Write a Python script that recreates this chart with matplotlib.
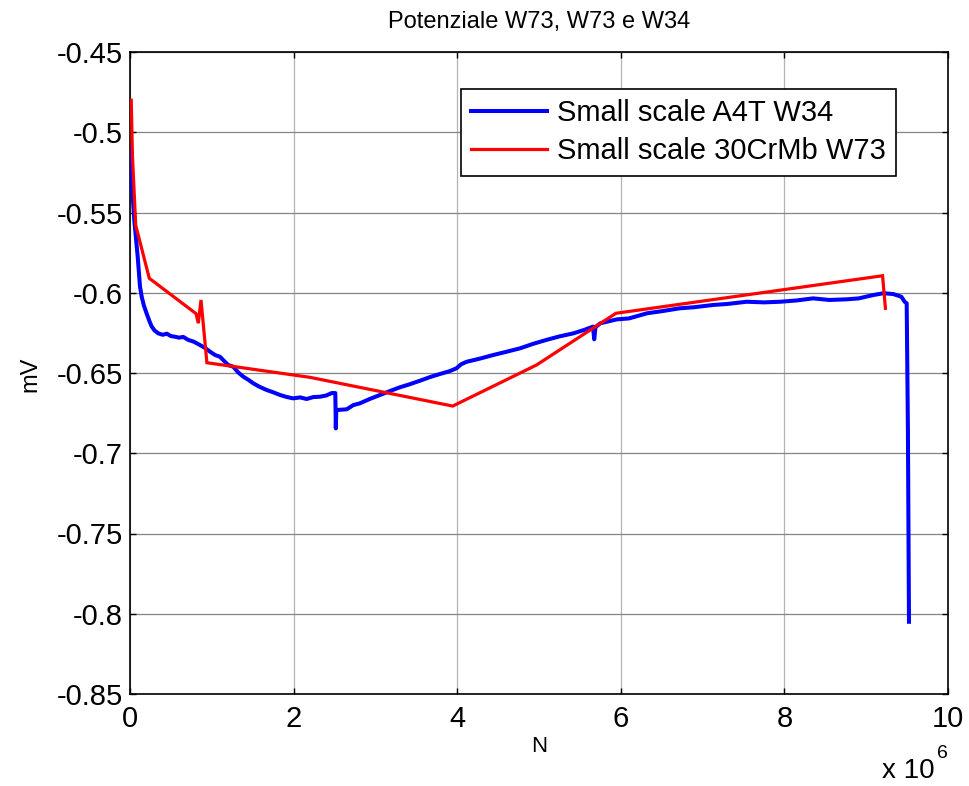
import matplotlib
matplotlib.use("Agg")
import matplotlib.pyplot as plt
import numpy as np

plt.rcParams['font.family'] = ['Liberation Sans', 'DejaVu Sans']

# Data (N in units of 1e6, potential in mV)
blue_n = [0.0, 0.01, 0.02, 0.053, 0.094, 0.122, 0.143, 0.17, 0.204, 0.24, 0.265, 0.30,
          0.346, 0.40, 0.45, 0.50, 0.55, 0.60, 0.65, 0.713, 0.78, 0.856, 0.92, 0.978,
          1.04, 1.10, 1.16, 1.20, 1.263, 1.32, 1.385, 1.44, 1.507, 1.58, 1.671, 1.75,
          1.834, 1.92, 1.996, 2.08, 2.16, 2.24, 2.32, 2.40, 2.466, 2.51, 2.516, 2.522,
          2.546, 2.60, 2.65, 2.73, 2.81, 2.93, 3.056, 3.18, 3.30, 3.42, 3.545, 3.67,
          3.79, 3.90, 3.99, 4.05, 4.116, 4.28, 4.44, 4.60, 4.77, 4.93, 5.09, 5.25,
          5.42, 5.55, 5.66, 5.675, 5.69, 5.75, 5.85, 5.95, 6.10, 6.32, 6.50, 6.72,
          6.90, 7.13, 7.30, 7.54, 7.75, 7.95, 8.15, 8.35, 8.55, 8.76, 8.91, 9.09,
          9.21, 9.33, 9.43, 9.47, 9.495, 9.51, 9.523]
blue_v = [-0.510, -0.520, -0.530, -0.555, -0.5775, -0.596, -0.6025, -0.608, -0.613, -0.618,
          -0.621, -0.6235, -0.6253, -0.6262, -0.6255, -0.6270, -0.6274, -0.6280, -0.6275,
          -0.6294, -0.6305, -0.6326, -0.6345, -0.6367, -0.6388, -0.6399, -0.6430, -0.6450,
          -0.6461, -0.6495, -0.6523, -0.6540, -0.6564, -0.6585, -0.6606, -0.6620, -0.6637,
          -0.6650, -0.6658, -0.6652, -0.6662, -0.6650, -0.6648, -0.6640, -0.6625, -0.6625,
          -0.6845, -0.6730, -0.6730, -0.6728, -0.6726, -0.6700, -0.6689, -0.6662, -0.6637,
          -0.6612, -0.6589, -0.6570, -0.6548, -0.6525, -0.6506, -0.6490, -0.6471, -0.6445,
          -0.6430, -0.6410, -0.6388, -0.6368, -0.6346, -0.6318, -0.6294, -0.6272, -0.6253,
          -0.6232, -0.6211, -0.6290, -0.6215, -0.6190, -0.6178, -0.6166, -0.6160, -0.6128,
          -0.6115, -0.6097, -0.6090, -0.6076, -0.6070, -0.6056, -0.6060, -0.6056, -0.6048,
          -0.6035, -0.6045, -0.6041, -0.6035, -0.6014, -0.6003, -0.6008, -0.6025, -0.6056,
          -0.6066, -0.6860, -0.8050]

red_n = [0.015, 0.03, 0.07, 0.236, 0.807, 0.835, 0.868, 0.94, 2.2, 3.945, 4.97, 5.94, 9.2, 9.235]
red_v = [-0.480, -0.515, -0.558, -0.591, -0.613, -0.619, -0.6045, -0.6436, -0.6527, -0.6706,
         -0.645, -0.6128, -0.5894, -0.6097]

labels = ['Small scale A4T W34', 'Small scale 30CrMb W73']
title = 'Potenziale W73, W73 e W34'
xticks = [0, 2, 4, 6, 8, 10]
yticks = [-0.85, -0.8, -0.75, -0.7, -0.65, -0.6, -0.55, -0.5, -0.45]
ytick_labels = ['-0.85', '-0.8', '-0.75', '-0.7', '-0.65', '-0.6', '-0.55', '-0.5', '-0.45']

W, H = 969, 786
fig = plt.figure(figsize=(W / 100, H / 100), dpi=100)
ax = fig.add_axes([130 / W, 1 - 694 / H, (948 - 130) / W, (694 - 52) / H])

ax.plot(np.array(blue_n) * 1e6, blue_v, color=(0, 0, 1), lw=2.9, label=labels[0],
        solid_joinstyle='round', zorder=3)
ax.plot(np.array(red_n) * 1e6, red_v, color=(1, 0, 0), lw=2.3, label=labels[1],
        solid_joinstyle='miter', zorder=4)

ax.set_xlim(0, 10e6)
ax.set_ylim(-0.85, -0.45)
ax.set_xticks([v * 1e6 for v in xticks])
ax.set_xticklabels([str(v) for v in xticks])
ax.set_yticks(yticks)
ax.set_yticklabels(ytick_labels)

ax.tick_params(direction='in', length=4, width=1.0, top=True, right=True,
               labelsize=21, colors='black')
ax.tick_params(axis='x', pad=8)
ax.tick_params(axis='y', pad=5)
for s in ax.spines.values():
    s.set_linewidth(1.2)
    s.set_color('black')

ax.xaxis.grid(True, color='#b4b4b4', lw=0.9, ls='-')
ax.yaxis.grid(True, color='#858585', lw=0.9, ls='-')
ax.set_axisbelow(True)

fig.text(539 / W, 1 - 22 / H, title, ha='center', va='center', fontsize=17)
fig.text(539 / W, 1 - 746 / H, 'N', ha='center', va='center', fontsize=16)
fig.text(30 / W, 1 - 374 / H, 'mV', ha='center', va='center', fontsize=17, rotation=90)
fig.text(908 / W, 1 - 771 / H, 'x 10', ha='center', va='center', fontsize=20)
fig.text(942 / W, 1 - 753 / H, '6', ha='center', va='center', fontsize=14)

leg = ax.legend(loc='upper right', bbox_to_anchor=((896 - 130) / 818, 1 - (89 - 52) / 642),
                borderaxespad=0, fontsize=21, frameon=True, fancybox=False, framealpha=1,
                edgecolor='black', borderpad=0.35, labelspacing=0.35, handlelength=2.6,
                handletextpad=0.35)
leg.get_frame().set_linewidth(1.2)

fig.savefig('out.png', dpi=100)
